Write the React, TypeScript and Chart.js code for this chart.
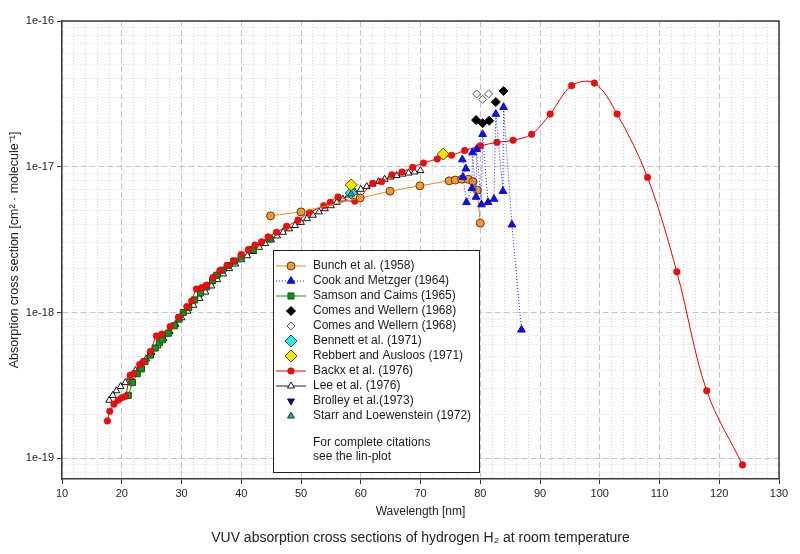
import React, { useEffect, useRef } from 'react';
import { Chart, registerables } from 'chart.js';
import { drawPoint } from 'chart.js/helpers';

Chart.register(...registerables);

// ---------------- data ----------------
const bunchNm = [44.9, 50.0, 59.9, 64.9, 69.9, 74.8, 75.8, 76.9, 78.0, 78.8, 79.5, 80.0];
const bunchVal = [4.6e-18, 4.9e-18, 6.1e-18, 6.8e-18, 7.4e-18, 8.0e-18, 8.1e-18, 8.2e-18, 8.2e-18, 7.9e-18, 6.9e-18, 4.1e-18];

const cookNm = [77.0, 77.6, 77.1, 77.7, 78.6, 78.7, 79.3, 79.4, 80.2, 80.4, 81.3, 82.3, 82.6, 83.8, 83.9, 85.3, 86.9];
const cookVal = [1.12e-17, 9.7e-18, 8.5e-18, 5.7e-18, 7.1e-18, 1.25e-17, 6.2e-18, 1.32e-17, 5.5e-18, 1.67e-17, 5.7e-18, 6.0e-18, 2.3e-17, 6.8e-18, 2.56e-17, 4.0e-18, 7.6e-19];

const samsonNm = [21.1, 21.8, 22.6, 23.3, 23.9, 24.8, 25.6, 26.3, 26.8, 27.8, 28.8, 29.6, 30.3, 31.2, 32.2, 33.2, 34.2, 35.2, 35.9, 36.8, 37.8, 38.8, 40.0, 42.0, 44.8];
const samsonVal = [2.7e-19, 3.3e-19, 3.8e-19, 4.1e-19, 4.6e-19, 5.1e-19, 5.7e-19, 6.2e-19, 6.5e-19, 7.2e-19, 8.1e-19, 9.0e-19, 1.0e-18, 1.08e-18, 1.22e-18, 1.36e-18, 1.5e-18, 1.66e-18, 1.8e-18, 1.95e-18, 2.1e-18, 2.25e-18, 2.4e-18, 2.7e-18, 3.2e-18];

const comesNm = [79.3, 80.4, 81.5, 82.6, 83.9];
const comesVal = [2.09e-17, 1.99e-17, 2.07e-17, 2.78e-17, 3.31e-17];

const comesOpenNm = [79.4, 80.4, 81.4];
const comesOpenVal = [3.16e-17, 2.9e-17, 3.16e-17];

const bennettNm = [58.4];
const bennettVal = [6.6e-18];

const rebbertNm = [58.4, 73.8];
const rebbertVal = [7.5e-18, 1.22e-17];

const backxNm = [17.6, 18.0, 18.7, 19.4, 20.0, 20.6, 21.4, 22.0, 23.0, 23.6, 24.8, 25.8, 26.7, 28.1, 29.5, 30.9, 31.7, 32.5, 33.4, 34.2, 35.3, 36.4, 37.6, 38.7, 40.0, 41.2, 42.3, 43.4, 44.5, 45.9, 47.6, 49.5, 51.4, 53.8, 54.9, 56.2, 59.0, 62.0, 63.5, 65.2, 66.9, 68.7, 70.5, 72.8, 75.2, 77.4, 80.0, 82.8, 85.5, 88.6, 91.7, 95.3, 99.1, 102.9, 108.0, 112.9, 117.9, 123.9];
const backxVal = [1.8e-19, 2.1e-19, 2.35e-19, 2.5e-19, 2.6e-19, 2.65e-19, 3.7e-19, 3.8e-19, 4.4e-19, 4.6e-19, 5.4e-19, 6.9e-19, 7.1e-19, 8.0e-19, 9.3e-19, 1.1e-18, 1.2e-18, 1.45e-18, 1.48e-18, 1.54e-18, 1.74e-18, 1.93e-18, 2.1e-18, 2.26e-18, 2.5e-18, 2.7e-18, 2.9e-18, 3.05e-18, 3.3e-18, 3.55e-18, 3.9e-18, 4.3e-18, 4.85e-18, 5.4e-18, 5.7e-18, 6.2e-18, 5.8e-18, 7.7e-18, 7.9e-18, 8.8e-18, 9.2e-18, 9.9e-18, 1.06e-17, 1.13e-17, 1.2e-17, 1.29e-17, 1.39e-17, 1.47e-17, 1.52e-17, 1.67e-17, 2.3e-17, 3.6e-17, 3.75e-17, 2.3e-17, 8.45e-18, 1.9e-18, 2.9e-19, 9.0e-20];

const leeNm = [17.9, 18.5, 19.1, 19.8, 20.6, 21.4, 22.3, 23.2, 24.1, 25.0, 26.0, 27.0, 28.0, 29.0, 30.0, 31.0, 32.0, 33.0, 34.0, 35.0, 36.0, 37.0, 38.0, 39.0, 40.0, 41.0, 42.0, 43.0, 44.0, 45.0, 46.0, 47.0, 48.0, 49.0, 50.0, 51.0, 52.0, 53.0, 54.0, 55.0, 56.0, 57.0, 58.0, 59.0, 60.0, 61.0, 62.0, 63.0, 64.0, 65.0, 66.0, 67.0, 68.0, 69.0, 70.0];
const leeVal = [2.5e-19, 2.7e-19, 2.9e-19, 3.1e-19, 3.3e-19, 3.6e-19, 4.0e-19, 4.4e-19, 4.8e-19, 5.3e-19, 5.9e-19, 6.6e-19, 7.4e-19, 8.3e-19, 9.2e-19, 1.02e-18, 1.12e-18, 1.25e-18, 1.38e-18, 1.52e-18, 1.68e-18, 1.84e-18, 2.0e-18, 2.15e-18, 2.3e-18, 2.45e-18, 2.62e-18, 2.8e-18, 2.97e-18, 3.15e-18, 3.35e-18, 3.55e-18, 3.75e-18, 3.95e-18, 4.15e-18, 4.4e-18, 4.65e-18, 4.9e-18, 5.15e-18, 5.4e-18, 5.7e-18, 6.0e-18, 6.4e-18, 6.7e-18, 7.0e-18, 7.3e-18, 7.6e-18, 7.9e-18, 8.2e-18, 8.5e-18, 8.7e-18, 8.9e-18, 9.05e-18, 9.2e-18, 9.4e-18];

const brolleyNm = [58.4];
const brolleyVal = [6.5e-18];

const starrNm = [58.4];
const starrVal = [6.5e-18];

const xMajorTicks = [10, 20, 30, 40, 50, 60, 70, 80, 90, 100, 110, 120, 130];
const yDecades = [1e-19, 1e-18, 1e-17, 1e-16];
const yMantissas = [1, 2, 3, 4, 5, 6, 7, 8, 9];

const legendOrder = [
  'Bunch et al. (1958)',
  'Cook and Metzger (1964)',
  'Samson and Caims (1965)',
  'Comes and Wellern (1968)',
  'Comes and Wellern (1968) ',
  'Bennett et al. (1971)',
  'Rebbert and Ausloos (1971)',
  'Backx et al. (1976)',
  'Lee et al. (1976)',
  'Brolley et al.(1973)',
  'Starr and Loewenstein (1972)',
];
const legendNotes = ['For complete citations', 'see the lin-plot'];

const xTitle = 'Wavelength [nm]';
const yTitle = 'Absorption cross section [cm\u00B2 \u00B7 molecule\u207B\u00B9]';
const caption = 'VUV absorption cross sections of hydrogen H\u2082 at room temperature';

// ---------------- helpers ----------------
const pts = (xs: number[], ys: number[]) => xs.map((x, i) => ({ x, y: ys[i] }));
const FONT = '"Liberation Sans", Arial, Helvetica, sans-serif';

const isDecade = (v: number) => {
  const l = Math.log10(v);
  return Math.abs(l - Math.round(l)) < 1e-6;
};

const xTickValues: number[] = [];
for (let i = 0; i < xMajorTicks.length; i++) {
  xTickValues.push(xMajorTicks[i]);
  if (i < xMajorTicks.length - 1) {
    for (let k = 1; k < 5; k++) xTickValues.push(xMajorTicks[i] + k * 2);
  }
}
const Y_MIN = 7.2e-20;
const Y_MAX = 1e-16;
const yTickValues: number[] = [];
[1e-20, ...yDecades].forEach((d) => {
  yMantissas.forEach((m) => {
    const v = parseFloat((m * d).toPrecision(6));
    if (v > Y_MIN && v <= Y_MAX) yTickValues.push(v);
  });
});

const frameLegendPlugin = {
  id: 'frameLegend',
  beforeDatasetsDraw(chart: any) {
    const { ctx, chartArea: ca } = chart;
    ctx.save();
    ctx.strokeStyle = '#3a3a3a';
    ctx.lineWidth = 1.5;
    ctx.beginPath();
    ctx.moveTo(ca.left, ca.top);
    ctx.lineTo(ca.right, ca.top);
    ctx.lineTo(ca.right, ca.bottom);
    ctx.stroke();
    ctx.restore();
  },
  afterDraw(chart: any) {
    const { ctx, chartArea: ca } = chart;
    const bx = ca.left + 211;
    const by = ca.top + 229;
    const bw = 206;
    const bh = 222;
    ctx.save();
    ctx.fillStyle = '#ffffff';
    ctx.fillRect(bx, by, bw, bh);
    ctx.strokeStyle = '#222';
    ctx.lineWidth = 1;
    ctx.strokeRect(bx + 0.5, by + 0.5, bw, bh);
    ctx.font = '12px ' + FONT;
    ctx.textBaseline = 'middle';
    ctx.textAlign = 'left';
    legendOrder.forEach((label, i) => {
      const ds: any = chart.data.datasets.find((d: any) => d.label === label);
      if (!ds) return;
      const y = by + 16 + i * 15;
      const mx = bx + 18;
      if (ds.showLine) {
        ctx.beginPath();
        ctx.setLineDash(ds.borderDash || []);
        ctx.strokeStyle = ds.borderColor;
        ctx.lineWidth = ds.borderWidth;
        ctx.moveTo(bx + 3, y);
        ctx.lineTo(bx + 33, y);
        ctx.stroke();
        ctx.setLineDash([]);
      }
      ctx.fillStyle = ds.pointBackgroundColor;
      ctx.strokeStyle = ds.pointBorderColor;
      ctx.lineWidth = ds.pointBorderWidth;
      drawPoint(ctx, {
        pointStyle: ds.pointStyle,
        rotation: ds.pointRotation || 0,
        radius: ds.pointRadius,
        borderWidth: ds.pointBorderWidth,
      } as any, mx, y);
      ctx.fillStyle = '#1a1a1a';
      ctx.fillText(label.trim(), bx + 40, y);
    });
    legendNotes.forEach((t, i) => {
      ctx.fillText(t, bx + 40, by + 193 + i * 14);
    });
    ctx.restore();
  },
};

export default function App() {
  const ref = useRef<HTMLCanvasElement | null>(null);
  useEffect(() => {
    if (!ref.current) return;
    const majorX = (c: any) => c.tick && c.tick.value % 10 === 0;
    const majorY = (c: any) => c.tick && isDecade(c.tick.value);
    const chart = new Chart(ref.current, {
      type: 'scatter',
      data: {
        datasets: [
          {
            label: 'Rebbert and Ausloos (1971)', data: pts(rebbertNm, rebbertVal), showLine: false,
            pointStyle: 'rectRot', pointRadius: 6, pointBackgroundColor: '#F2E600', pointBorderColor: '#5a5200', pointBorderWidth: 1,
            borderColor: '#5a5200', order: 0,
          },
          {
            label: 'Starr and Loewenstein (1972)', data: pts(starrNm, starrVal), showLine: false,
            pointStyle: 'triangle', pointRadius: 4, pointBackgroundColor: '#2aa7a7', pointBorderColor: '#0f3a3a', pointBorderWidth: 1,
            borderColor: '#0f3a3a', order: 1,
          },
          {
            label: 'Bennett et al. (1971)', data: pts(bennettNm, bennettVal), showLine: false,
            pointStyle: 'rectRot', pointRadius: 6, pointBackgroundColor: '#35E5E5', pointBorderColor: '#1a5a5a', pointBorderWidth: 1,
            borderColor: '#1a5a5a', order: 2,
          },
          {
            label: 'Brolley et al.(1973)', data: pts(brolleyNm, brolleyVal), showLine: false,
            pointStyle: 'triangle', pointRotation: 180, pointRadius: 4, pointBackgroundColor: '#10105a', pointBorderColor: '#10105a', pointBorderWidth: 1,
            borderColor: '#10105a', order: 3,
          },
          {
            label: 'Comes and Wellern (1968) ', data: pts(comesOpenNm, comesOpenVal), showLine: false,
            pointStyle: 'rectRot', pointRadius: 4, pointBackgroundColor: '#ffffff', pointBorderColor: '#555555', pointBorderWidth: 1,
            borderColor: '#555555', order: 4,
          },
          {
            label: 'Comes and Wellern (1968)', data: pts(comesNm, comesVal), showLine: false,
            pointStyle: 'rectRot', pointRadius: 4.5, pointBackgroundColor: '#000000', pointBorderColor: '#000000', pointBorderWidth: 1,
            borderColor: '#000000', order: 5,
          },
          {
            label: 'Cook and Metzger (1964)', data: pts(cookNm, cookVal), showLine: true,
            borderColor: '#2020d0', borderWidth: 1, borderDash: [1, 2],
            pointStyle: 'triangle', pointRadius: 4.5, pointBackgroundColor: '#1010e0', pointBorderColor: '#1010c0', pointBorderWidth: 1, order: 6,
          },
          {
            label: 'Bunch et al. (1958)', data: pts(bunchNm, bunchVal), showLine: true,
            borderColor: '#DB8A2E', borderWidth: 1,
            pointStyle: 'circle', pointRadius: 4, pointBackgroundColor: '#EE9A3A', pointBorderColor: '#6b3a08', pointBorderWidth: 1, order: 7,
          },
          {
            label: 'Backx et al. (1976)', data: pts(backxNm, backxVal), showLine: true, tension: 0.35,
            borderColor: '#E00000', borderWidth: 1,
            pointStyle: 'circle', pointRadius: 3.3, pointBackgroundColor: '#E81010', pointBorderColor: '#D00000', pointBorderWidth: 0.5, order: 8,
          },
          {
            label: 'Samson and Caims (1965)', data: pts(samsonNm, samsonVal), showLine: true,
            borderColor: '#1E8C1E', borderWidth: 1,
            pointStyle: 'rect', pointRadius: 4.3, pointBackgroundColor: '#1E8C1E', pointBorderColor: '#0e5a0e', pointBorderWidth: 1, order: 9,
          },
          {
            label: 'Lee et al. (1976)', data: pts(leeNm, leeVal), showLine: true,
            borderColor: '#222222', borderWidth: 1,
            pointStyle: 'triangle', pointRadius: 4, pointBackgroundColor: '#ffffff', pointBorderColor: '#111111', pointBorderWidth: 1, order: 10,
          },
        ] as any,
      },
      options: {
        animation: false,
        responsive: false,
        events: [],
        layout: { padding: { top: 21, right: 21, left: 0, bottom: 0 } },
        plugins: {
          legend: { display: false },
          tooltip: { enabled: false },
          title: {
            display: true, position: 'bottom', fullSize: false, text: caption,
            font: { family: FONT, size: 14, weight: 'normal' }, color: '#222',
            padding: { top: 6, bottom: 7 },
          },
        },
        scales: {
          x: {
            type: 'linear', min: 10, max: 130,
            afterBuildTicks: (s: any) => { s.ticks = xTickValues.map((v) => ({ value: v })); },
            afterFit: (s: any) => { s.height = 45.2; },
            ticks: {
              autoSkip: false, maxRotation: 0, minRotation: 0, padding: 3,
              font: { family: FONT, size: 11 }, color: '#222',
              callback: (v: any) => (Number(v) % 10 === 0 ? String(v) : ''),
            },
            grid: {
              color: (c: any) => (majorX(c) ? '#c4c4c4' : '#d6d6d6'),
              lineWidth: 1, tickLength: 5,
              tickColor: (c: any) => (majorX(c) ? '#333' : 'rgba(0,0,0,0)'),
            },
            border: {
              display: true, color: '#3a3a3a', width: 1.5,
              dash: (c: any) => (c.tick ? (majorX(c) ? [6, 3] : [1, 2]) : []),
            },
            title: {
              display: true, text: xTitle, font: { family: FONT, size: 12 }, color: '#222',
              padding: { top: 2, bottom: 5 },
            },
          },
          y: {
            type: 'logarithmic', min: Y_MIN, max: Y_MAX,
            afterBuildTicks: (s: any) => { s.ticks = yTickValues.map((v) => ({ value: v })); },
            afterFit: (s: any) => { s.width = 62; },
            ticks: {
              autoSkip: false, padding: 3,
              font: { family: FONT, size: 11 }, color: '#222',
              callback: (v: any) => (isDecade(Number(v)) ? '1e' + Math.round(Math.log10(Number(v))) : ''),
            },
            grid: {
              color: (c: any) => (majorY(c) ? '#c4c4c4' : '#d6d6d6'),
              lineWidth: 1, tickLength: 5,
              tickColor: (c: any) => (majorY(c) ? '#333' : 'rgba(0,0,0,0)'),
            },
            border: {
              display: true, color: '#3a3a3a', width: 1.5,
              dash: (c: any) => (c.tick ? (majorY(c) ? [6, 3] : [1, 2]) : []),
            },
            title: {
              display: true, text: yTitle, font: { family: FONT, size: 12.5 }, color: '#222',
              padding: { top: 7, bottom: 0 },
            },
          },
        },
      } as any,
      plugins: [frameLegendPlugin],
    });
    return () => chart.destroy();
  }, []);
  return (
    <div style={{ position: 'fixed', left: 0, top: 0, width: 800, height: 554, background: '#fff' }}>
      <canvas ref={ref} width={800} height={554} style={{ width: 800, height: 554, display: 'block' }} />
    </div>
  );
}
